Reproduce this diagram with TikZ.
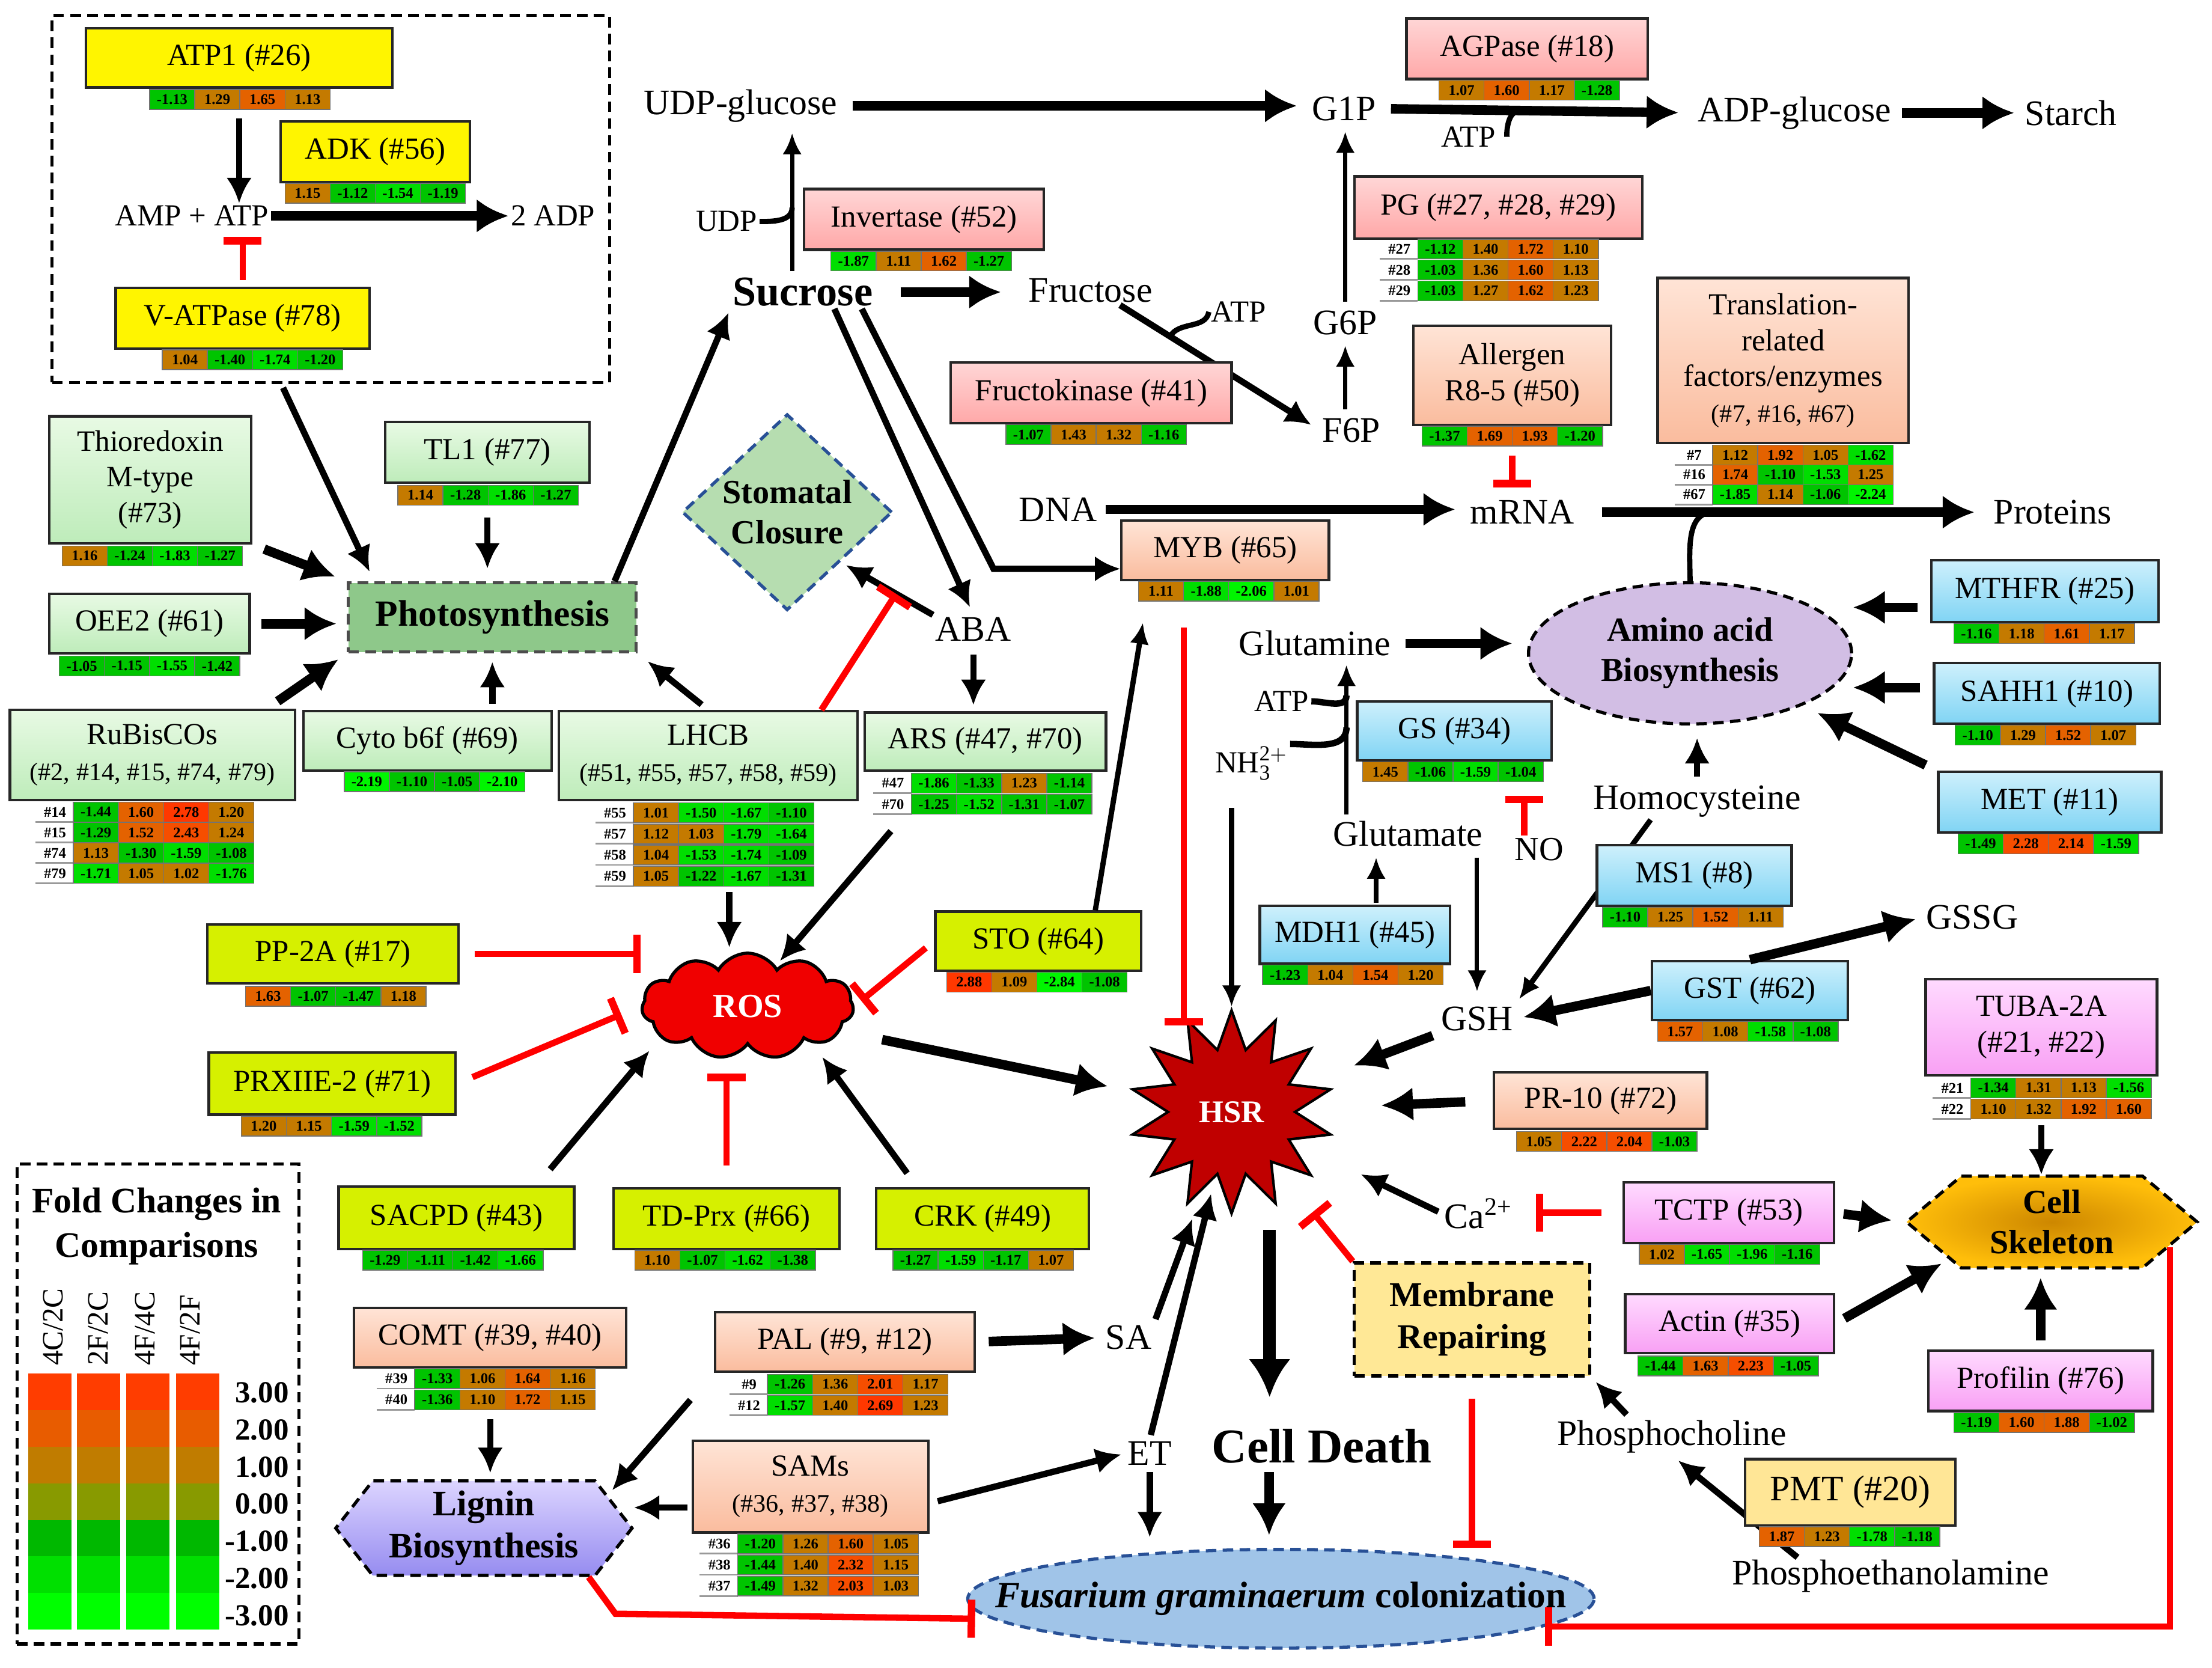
\documentclass[tikz,border=0pt]{standalone}
\usepackage{fontspec}
\setmainfont{Liberation Serif}
\setmathrm{Liberation Serif}
\usetikzlibrary{arrows.meta,shapes.geometric,shapes.symbols}

\definecolor{hp1}{RGB}{196,122,0}
\definecolor{hp2}{RGB}{228,98,0}
\definecolor{hp3}{RGB}{246,78,0}
\definecolor{hp4}{RGB}{255,56,0}
\definecolor{hn1}{RGB}{0,196,0}
\definecolor{hn2}{RGB}{0,222,0}
\definecolor{hn3}{RGB}{0,245,0}
\definecolor{lg3}{RGB}{255,61,0}
\definecolor{lg2}{RGB}{232,92,0}
\definecolor{lg1}{RGB}{192,124,0}
\definecolor{lg0}{RGB}{136,154,0}
\definecolor{lgm1}{RGB}{0,184,0}
\definecolor{lgm2}{RGB}{0,224,0}
\definecolor{lgm3}{RGB}{0,255,0}
\definecolor{enyel}{RGB}{255,245,0}
\definecolor{grtop}{RGB}{232,250,228}
\definecolor{grbot}{RGB}{190,236,186}
\definecolor{pktop}{RGB}{255,214,214}
\definecolor{pkbot}{RGB}{255,168,168}
\definecolor{sltop}{RGB}{255,228,214}
\definecolor{slbot}{RGB}{250,188,158}
\definecolor{bltop}{RGB}{206,240,252}
\definecolor{blbot}{RGB}{128,212,244}
\definecolor{rosly}{RGB}{214,240,0}
\definecolor{mgtop}{RGB}{255,218,255}
\definecolor{mgbot}{RGB}{248,160,244}
\definecolor{pmtyel}{RGB}{255,230,150}
\definecolor{photog}{RGB}{142,200,138}
\definecolor{stomg}{RGB}{182,221,176}
\definecolor{aminop}{RGB}{210,190,228}
\definecolor{fusb}{RGB}{160,196,232}
\definecolor{membr}{RGB}{255,232,150}
\definecolor{cellin}{RGB}{205,135,0}
\definecolor{cellout}{RGB}{255,190,10}
\definecolor{ligtop}{RGB}{220,212,255}
\definecolor{ligbot}{RGB}{150,140,240}
\definecolor{rosred}{RGB}{240,0,0}
\definecolor{hsrred}{RGB}{192,0,0}
\definecolor{dashblue}{RGB}{40,80,150}

\tikzstyle{pbox}=[draw=black!85,line width=1.2pt,inner sep=0pt,align=center,font=\fontsize{14.5}{17}\selectfont]
\tikzstyle{ybox}=[pbox,fill=enyel]
\tikzstyle{gbox}=[pbox,top color=grtop,bottom color=grbot]
\tikzstyle{kbox}=[pbox,top color=pktop,bottom color=pkbot]
\tikzstyle{sbox}=[pbox,top color=sltop,bottom color=slbot]
\tikzstyle{bbox}=[pbox,top color=bltop,bottom color=blbot]
\tikzstyle{lbox}=[pbox,fill=rosly]
\tikzstyle{mbox}=[pbox,top color=mgtop,bottom color=mgbot]
\tikzstyle{heatnum}=[font=\fontsize{7}{7}\selectfont\bfseries,inner sep=0pt]
\tikzstyle{mtxt}=[font=\fontsize{17}{19}\selectfont,inner sep=1pt]
\tikzstyle{stxt}=[font=\fontsize{14.5}{16}\selectfont,inner sep=1pt]
\tikzstyle{myarrow}=[line width=3pt,>={Latex[length=12pt,width=12pt]},->]
\tikzstyle{mybig}=[line width=4.5pt,>={Latex[length=15pt,width=16pt]},->]
\tikzstyle{mythin}=[line width=2pt,>={Latex[length=10pt,width=9pt]},->]
\tikzstyle{myinhib}=[red,line width=3pt,-{Bar[width=18pt,line width=3.5pt]}]
\tikzstyle{mydash}=[dashed,dash pattern=on 5pt off 3pt,line width=1.5pt]

\newcommand{\ux}{0.023476cm}
% box from its corners: style, name, x1, y1, x2, y2, text
\newcommand{\pbx}[7]{%
  \node[#1,minimum width=(#5-#3)*\ux,minimum height=(#6-#4)*\ux] (#2) at ({(#3+#5)/2},{(#4+#6)/2}) {#7};}
\newcount\hcnt
% one heat cell: left, top, value
\newcommand{\hcell}[3]{%
  \global\advance\hcnt by 1
  \edef\hcname{hc\the\hcnt}%
  \pgfmathtruncatemacro{\hci}{(#3>=2.5)?6:((#3>=2)?5:((#3>=1.5)?4:((#3>0)?3:((#3>-1.5)?2:((#3>-2)?1:0)))))}%
  \ifcase\hci\def\hcc{hn3}\or\def\hcc{hn2}\or\def\hcc{hn1}\or\def\hcc{hp1}\or\def\hcc{hp2}\or\def\hcc{hp3}\or\def\hcc{hp4}\fi
  \filldraw[fill=\hcc,draw=black!55,line width=0.4pt] (#1,#2) rectangle +(32,14);
  \node[heatnum] (\hcname) at ({#1+16},{#2+7}) {#3};%
}
\newcommand{\hmap}[3]{\foreach \v [count=\i from 0] in {#3} {\hcell{#1+32*\i}{#2}{\v}}}
\newcommand{\hrow}[4]{%
  \global\advance\hcnt by 1
  \edef\hcname{hl\the\hcnt}%
  \node[heatnum] (\hcname) at ({#1-13},{#2+7}) {#3};
  \draw[black!40,line width=0.8pt] ({#1-27},{#2+14}) -- (#1,{#2+14});
  \hmap{#1}{#2}{#4}}

\pgfdeclarelayer{under}
\pgfsetlayers{under,main}

\begin{document}
\begin{tikzpicture}[x=0.023476cm,y=-0.023476cm]
\useasboundingbox (0,0) rectangle (1568,1182);

% energy
\pbx{draw,mydash,inner sep=0pt}{enbox}{37}{11}{432}{271}{}
\pbx{ybox}{atp1}{61}{20}{278}{62}{ATP1 (\#26)}
\hmap{106}{63.5}{-1.13,1.29,1.65,1.13}
\pbx{ybox}{adk}{199}{86}{333}{129}{ADK (\#56)}
\hmap{202}{130}{1.15,-1.12,-1.54,-1.19}
\node[stxt] (amp) at (136,153) {AMP + ATP};
\node[stxt] (adp) at (392,153) {2 ADP};
\pbx{ybox}{vatp}{82}{204}{262}{247}{V-ATPase (\#78)}
\hmap{115}{248}{1.04,-1.40,-1.74,-1.20}

% photosynthesis
\pbx{gbox,font=\fontsize{14}{17}\selectfont}{thio}{35}{295}{178}{385}{Thioredoxin\\M-type\\(\#73)}
\hmap{44}{387}{1.16,-1.24,-1.83,-1.27}
\pbx{gbox}{tl1}{273}{299}{418}{342}{TL1 (\#77)}
\hmap{282}{344}{1.14,-1.28,-1.86,-1.27}
\pbx{gbox}{oee2}{35}{421}{177}{463}{OEE2 (\#61)}
\hmap{42}{465}{-1.05,-1.15,-1.55,-1.42}
\pbx{draw=black!70,mydash,fill=photog,inner sep=0pt,font=\fontsize{17.5}{19}\selectfont\bfseries}{photo}{247}{413}{451}{462}{Photosynthesis}
\pbx{gbox}{rubisco}{7}{503}{209}{567}{RuBisCOs\\{\fontsize{12}{14}\selectfont(\#2, \#14, \#15, \#74, \#79)}}
\hrow{52}{568.5}{\#14}{-1.44,1.60,2.78,1.20}
\hrow{52}{583}{\#15}{-1.29,1.52,2.43,1.24}
\hrow{52}{597.5}{\#74}{1.13,-1.30,-1.59,-1.08}
\hrow{52}{612}{\#79}{-1.71,1.05,1.02,-1.76}
\pbx{gbox}{cyto}{215}{504}{391}{546}{Cyto b6f (\#69)}
\hmap{244}{547}{-2.19,-1.10,-1.05,-2.10}
\pbx{gbox}{lhcb}{396}{504}{608}{567}{LHCB\\{\fontsize{12}{14}\selectfont(\#51, \#55, \#57, \#58, \#59)}}
\hrow{449}{569}{\#55}{1.01,-1.50,-1.67,-1.10}
\hrow{449}{584}{\#57}{1.12,1.03,-1.79,-1.64}
\hrow{449}{599}{\#58}{1.04,-1.53,-1.74,-1.09}
\hrow{449}{614}{\#59}{1.05,-1.22,-1.67,-1.31}
\pbx{gbox}{ars}{613}{505}{784}{546}{ARS (\#47, \#70)}
\hrow{646}{548}{\#47}{-1.86,-1.33,1.23,-1.14}
\hrow{646}{563}{\#70}{-1.25,-1.52,-1.31,-1.07}
\node[diamond,draw=dashblue,mydash,fill=stomg,minimum width=149*\ux,minimum height=139*\ux,inner sep=0pt,align=center,font=\fontsize{16}{19}\selectfont\bfseries] (stomatal) at (558,363) {Stomatal\\Closure};
\node[mtxt] (aba) at (690,446) {ABA};

% sugars
\node[mtxt,font=\fontsize{20}{22}\selectfont\bfseries] (sucrose) at (569,207) {Sucrose};
\node[mtxt] (udpg) at (525,75) {UDP-glucose};
\node[mtxt] (g1p) at (952.6,77) {G1P};
\node[mtxt] (adpg) at (1272,80) {ADP-glucose};
\node[mtxt] (starch) at (1468,80) {Starch};
\node[stxt] (atpa) at (1041,97) {ATP};
\node[stxt] (udp) at (515,157) {UDP};
\node[mtxt] (fructose) at (773,206) {Fructose};
\node[stxt] (atpb) at (878,221) {ATP};
\node[mtxt] (g6p) at (953.6,228.6) {G6P};
\node[mtxt] (f6p) at (958,305) {F6P};
\node[mtxt] (dna) at (750,361) {DNA};
\node[mtxt] (mrna) at (1079,363) {mRNA};
\node[mtxt] (proteins) at (1455,363) {Proteins};
\pbx{kbox}{invert}{570}{134}{740}{177}{Invertase (\#52)}
\hmap{589}{178}{-1.87,1.11,1.62,-1.27}
\pbx{kbox}{agpase}{997}{13}{1168}{56}{AGPase (\#18)}
\hmap{1020}{57}{1.07,1.60,1.17,-1.28}
\pbx{kbox}{pg}{960}{125}{1164}{169}{PG (\#27, \#28, \#29)}
\hrow{1005}{169.5}{\#27}{-1.12,1.40,1.72,1.10}
\hrow{1005}{184.3}{\#28}{-1.03,1.36,1.60,1.13}
\hrow{1005}{199.1}{\#29}{-1.03,1.27,1.62,1.23}
\pbx{kbox}{fruk}{674}{257}{873}{300}{Fructokinase (\#41)}
\hmap{713}{301}{-1.07,1.43,1.32,-1.16}
\pbx{sbox}{allergen}{1002}{231}{1142}{301}{Allergen\\R8-5 (\#50)}
\hmap{1008}{302}{-1.37,1.69,1.93,-1.20}
\pbx{sbox}{transl}{1175}{197}{1353}{314}{Translation-\\related\\factors/enzymes\\{\fontsize{12}{14}\selectfont(\#7, \#16, \#67)}}
\hrow{1214}{315.5}{\#7}{1.12,1.92,1.05,-1.62}
\hrow{1214}{329.5}{\#16}{1.74,-1.10,-1.53,1.25}
\hrow{1214}{343.5}{\#67}{-1.85,1.14,-1.06,-2.24}
\pbx{sbox}{myb}{795}{369}{942}{411}{MYB (\#65)}
\hmap{807}{412}{1.11,-1.88,-2.06,1.01}

% amino acids
\node[mtxt] (glutamine) at (932,456) {Glutamine};
\node[ellipse,draw,mydash,fill=aminop,minimum width=229*\ux,minimum height=100*\ux,inner sep=0pt,align=center,font=\fontsize{16}{19}\selectfont\bfseries] (amino) at (1198,463) {Amino acid\\Biosynthesis};
\pbx{bbox}{mthfr}{1369}{397}{1530}{441}{MTHFR (\#25)}
\hmap{1385}{442}{-1.16,1.18,1.61,1.17}
\pbx{bbox}{sahh}{1371}{470}{1531}{513}{SAHH1 (\#10)}
\hmap{1386}{514}{-1.10,1.29,1.52,1.07}
\pbx{bbox}{met}{1374}{547}{1532}{590}{MET (\#11)}
\hmap{1388}{591}{-1.49,2.28,2.14,-1.59}
\node[stxt] (atpc) at (908.5,497) {ATP};
\node[stxt] (nh3) at (887,541) {NH$_{\mathrm{3}}^{\mathrm{2+}}$};
\pbx{bbox}{gs}{962}{497}{1100}{539}{GS (\#34)}
\hmap{966}{540}{1.45,-1.06,-1.59,-1.04}
\node[mtxt] (homocys) at (1203,568) {Homocysteine};
\node[mtxt] (glutamate) at (998,591) {Glutamate};
\node[stxt,font=\fontsize{16}{18}\selectfont] (nox) at (1091,602) {NO};
\pbx{bbox}{ms1}{1132}{599}{1270}{642}{MS1 (\#8)}
\hmap{1136}{643}{-1.10,1.25,1.52,1.11}
\node[mtxt] (gssg) at (1398,650) {GSSG};
\pbx{bbox}{mdh1}{893}{642}{1028}{683}{MDH1 (\#45)}
\hmap{895}{684}{-1.23,1.04,1.54,1.20}
\node[mtxt] (gsh) at (1047,722) {GSH};
\pbx{bbox}{gst}{1171}{681}{1310}{723}{GST (\#62)}
\hmap{1175}{724}{1.57,1.08,-1.58,-1.08}
\pbx{mbox}{tuba}{1365}{694}{1529}{762}{TUBA-2A\\(\#21, \#22)}
\hrow{1397}{764}{\#21}{-1.34,1.31,1.13,-1.56}
\hrow{1397}{779}{\#22}{1.10,1.32,1.92,1.60}
\pbx{sbox}{pr10}{1059}{760}{1210}{800}{PR-10 (\#72)}
\hmap{1075}{802}{1.05,2.22,2.04,-1.03}

% cell skeleton and membrane
\node[mtxt] (ca) at (1048,860) {Ca\textsuperscript{2+}};
\pbx{mbox}{tctp}{1151}{838}{1300}{881}{TCTP (\#53)}
\hmap{1162}{882}{1.02,-1.65,-1.96,-1.16}
\node[signal,signal to=east and west,signal pointer angle=80,draw,mydash,inner color=cellin,outer color=cellout,minimum width=206*\ux,minimum height=65*\ux,inner sep=0pt,align=center,font=\fontsize{16}{19}\selectfont\bfseries] (cell) at (1454.5,866) {Cell\\Skeleton};
\pbx{mbox}{actin}{1152}{917}{1300}{959}{Actin (\#35)}
\hmap{1161}{961}{-1.44,1.63,2.23,-1.05}
\pbx{mbox}{profilin}{1367}{957}{1526}{1000}{Profilin (\#76)}
\hmap{1385}{1001}{-1.19,1.60,1.88,-1.02}
\pbx{draw,mydash,fill=membr,inner sep=0pt,align=center,font=\fontsize{16.5}{20}\selectfont\bfseries}{membrane}{960}{895}{1127}{975}{Membrane\\Repairing}
\node[mtxt] (pcho) at (1185,1018) {Phosphocholine};
\pbx{pbox,fill=pmtyel,font=\fontsize{17}{19}\selectfont}{pmt}{1237}{1034}{1386}{1081}{PMT (\#20)}
\hmap{1247}{1082}{1.87,1.23,-1.78,-1.18}
\node[mtxt] (peth) at (1340,1117) {Phosphoethanolamine};

% ROS and HSR
\node[cloud,cloud puffs=11,cloud puff arc=120,aspect=2,draw,line width=1.5pt,fill=rosred,minimum width=150*\ux,minimum height=75*\ux,inner sep=0pt,text=white,font=\fontsize{16}{18}\selectfont\bfseries] (ros) at (530,713) {ROS};
\node[star,star points=14,star point ratio=1.6,draw,line width=1.2pt,fill=hsrred,minimum size=144*\ux,inner sep=0pt,text=white,font=\fontsize{15}{17}\selectfont\bfseries] (hsr) at (873,788) {HSR};
\pbx{lbox}{pp2a}{147}{655}{325}{697}{PP-2A (\#17)}
\hmap{174}{699}{1.63,-1.07,-1.47,1.18}
\pbx{lbox}{prx}{148}{746}{323}{790}{PRXIIE-2 (\#71)}
\hmap{171}{791}{1.20,1.15,-1.59,-1.52}
\pbx{lbox}{sto}{663}{646}{809}{688}{STO (\#64)}
\hmap{671}{689}{2.88,1.09,-2.84,-1.08}
\pbx{lbox}{sacpd}{240}{841}{407}{885}{SACPD (\#43)}
\hmap{257}{886}{-1.29,-1.11,-1.42,-1.66}
\pbx{lbox}{tdprx}{435}{842}{595}{885}{TD-Prx (\#66)}
\hmap{450}{886}{1.10,-1.07,-1.62,-1.38}
\pbx{lbox}{crk}{621}{842}{772}{885}{CRK (\#49)}
\hmap{633}{886}{-1.27,-1.59,-1.17,1.07}

% lignin, SA, ET
\pbx{sbox}{comt}{251}{927}{444}{969}{COMT (\#39, \#40)}
\hrow{294}{970}{\#39}{-1.33,1.06,1.64,1.16}
\hrow{294}{985}{\#40}{-1.36,1.10,1.72,1.15}
\pbx{sbox}{pal}{507}{930}{691}{972}{PAL (\#9, \#12)}
\hrow{544}{974}{\#9}{-1.26,1.36,2.01,1.17}
\hrow{544}{989}{\#12}{-1.57,1.40,2.69,1.23}
\pbx{sbox}{sams}{491}{1021}{658}{1086}{SAMs\\{\fontsize{12}{14}\selectfont(\#36, \#37, \#38)}}
\hrow{523}{1087}{\#36}{-1.20,1.26,1.60,1.05}
\hrow{523}{1102}{\#38}{-1.44,1.40,2.32,1.15}
\hrow{523}{1117}{\#37}{-1.49,1.32,2.03,1.03}
\node[signal,signal to=east and west,signal pointer angle=104,draw,mydash,top color=ligtop,bottom color=ligbot,minimum width=210*\ux,minimum height=67*\ux,inner sep=0pt,align=center,font=\fontsize{17}{20}\selectfont\bfseries] (lignin) at (343,1083) {Lignin\\Biosynthesis};
\node[mtxt] (sa) at (800,948) {SA};
\node[mtxt] (et) at (815,1030) {ET};
\node[mtxt,font=\fontsize{23}{25}\selectfont\bfseries] (celldeath) at (937,1025) {Cell Death};
\node[ellipse,draw=dashblue,mydash,fill=fusb,minimum width=444*\ux,minimum height=70*\ux,inner xsep=-32pt,inner ysep=0pt,font=\fontsize{17.5}{19}\selectfont\bfseries] (fusarium) at (908,1133) {\textit{Fusarium graminaerum} colonization};

% legend
\pbx{draw,mydash,inner sep=0pt}{legbox}{12}{825}{212}{1165}{}
\node[align=center,font=\fontsize{17}{21}\selectfont\bfseries] (legtitle) at (111,869) {Fold Changes in\\Comparisons};
\foreach \col [count=\k from 0] in {lg3,lg2,lg1,lg0,lgm1,lgm2,lgm3}
  \foreach \xl in {20,54.7,89.5,125}
    \fill[\col] (\xl,{973.5+25.9*\k}) rectangle +(30.5,25.9);
\foreach \t [count=\k from 0] in {3.00,2.00,1.00,0.00,-1.00,-2.00,-3.00}
  \node[anchor=east,inner sep=0pt,font=\fontsize{14.5}{16}\selectfont\bfseries] (lv\k) at (205,{987+26.3*\k}) {\t};
\node[rotate=90,anchor=west,inner sep=0pt,font=\fontsize{14}{16}\selectfont] (lca) at (37.6,968) {4C/2C};
\node[rotate=90,anchor=west,inner sep=0pt,font=\fontsize{14}{16}\selectfont] (lcb) at (69.6,968) {2F/2C};
\node[rotate=90,anchor=west,inner sep=0pt,font=\fontsize{14}{16}\selectfont] (lcc) at (103,968) {4F/4C};
\node[rotate=90,anchor=west,inner sep=0pt,font=\fontsize{14}{16}\selectfont] (lcd) at (135,968) {4F/2F};

% lines running under boxes
\begin{pgfonlayer}{under}
\path ([xshift=14pt]fructose.south) -- (f6p.west) coordinate[pos=0.25] (frj);
\draw[myarrow,shorten >=5pt] ([xshift=14pt]fructose.south) -- (f6p.west);
\draw[mythin,line width=2.5pt,shorten >=3pt] ([xshift=-22pt]homocys.south) -- (gsh.north east);
\draw[myarrow,shorten >=4pt] ([xshift=-44pt]peth.north) -- (pcho.south);
\end{pgfonlayer}

% energy links
\draw[myarrow,shorten <=14pt] (atp1.south) -- (atp1.south |- amp.north);
\draw[mybig] (amp.east) -- (adp.west);
\draw[myinhib,shorten <=3pt,shorten >=4pt] (vatp.north) -- (vatp.north |- amp.south);
\draw[myarrow,shorten <=2pt,shorten >=5pt] (enbox.255) -- (photo.163);

% photosynthesis links
\draw[mybig,shorten <=6pt,shorten >=6pt] (thio.south east) -- (photo.north west);
\draw[mybig,shorten <=5pt,shorten >=5pt] (oee2.east) -- (oee2.east -| photo.west);
\draw[mybig,shorten <=6pt,shorten >=5pt] (rubisco.22) -- (photo.south west);
\draw[myarrow,shorten <=16pt,shorten >=6pt] (tl1.south) -- (tl1.south |- photo.north);
\draw[myarrow,shorten <=3pt,shorten >=4pt] (photo.south |- cyto.north) -- (photo.south);
\draw[myarrow,shorten <=4pt,shorten >=6pt] (lhcb.north) -- (photo.south east);
\draw[myarrow,shorten >=2pt] ([xshift=-11pt]photo.north east) -- (sucrose.south west);

% sugar links
\draw[mythin,shorten <=2pt,shorten >=4pt] ([xshift=-5pt]sucrose.north) -- ([xshift=-5pt]sucrose.north |- udpg.south);
\path ([xshift=-5pt]sucrose.north) -- ([xshift=-5pt]sucrose.north |- udpg.south) coordinate[pos=0.45] (udpj);
\draw[line width=2.5pt] (udp.east) to[out=0,in=-90] (udpj);
\draw[mybig,shorten <=6pt,shorten >=6pt] (udpg.east) -- (udpg.east -| g1p.west);
\path (g1p.east) -- (adpg.west) coordinate[pos=0.45] (adpj);
\draw[mybig,shorten <=6pt,shorten >=8pt] (g1p.east) -- (adpg.west);
\draw[line width=2.5pt] ([xshift=4pt]atpa.east) to[out=90,in=180] (adpj);
\draw[mybig,shorten <=4pt,shorten >=4pt] (adpg.east) -- (starch.west);
\draw[mybig,shorten <=12pt,shorten >=12pt] (sucrose.east) -- (sucrose.east -| fructose.west);
\draw[line width=2.5pt] (atpb.west) to[out=-100,in=60] (frj);
\draw[mythin,shorten <=3pt,shorten >=4pt] (g6p.south |- f6p.north) -- (g6p.south);
\draw[mythin,shorten <=3pt,shorten >=4pt] (g6p.north) -- (g6p.north |- g1p.south);
\draw[myinhib,shorten <=14pt,shorten >=5pt] (allergen.south) -- (allergen.south |- mrna.north);
\draw[mybig,shorten <=3pt,shorten >=6pt] (dna.east) -- (dna.east -| mrna.west);
\path (mrna.east) -- (mrna.east -| proteins.west) coordinate[pos=0.33] (protj);
\draw[mybig,shorten <=12pt,shorten >=8pt] (mrna.east) -- (mrna.east -| proteins.west);
\draw[line width=2.5pt] (amino.north) to[out=90,in=180] (protj);
\draw[myarrow,shorten >=4pt] ([xshift=15pt]sucrose.south) -- (aba.north);
\draw[myarrow] ([xshift=28pt]sucrose.south) -- ([xshift=-60pt]myb.190) -- (myb.190);

% ABA links
\path (aba.north west) -- (stomatal.south east) coordinate[pos=0.4] (abastj);
\draw[myarrow,shorten >=3pt] (aba.north west) -- (stomatal.south east);
\draw[myinhib] (lhcb.22) -- (abastj);
\draw[myarrow,shorten <=5pt,shorten >=3pt] (aba.south) -- (aba.south |- ars.north);

% amino acid links
\draw[mybig,shorten <=6pt,shorten >=7pt] (glutamine.east) -- (glutamine.east -| amino.west);
\draw[mybig,shorten <=6pt] (mthfr.188) -- (mthfr.188 -| amino.east);
\draw[mybig,shorten <=6pt] (sahh.177) -- (sahh.177 -| amino.east);
\draw[mybig,shorten <=6pt,shorten >=8pt] (met.north west) -- (amino.-25);
\draw[myarrow,shorten <=3pt,shorten >=6pt] (homocys.north) -- (homocys.north |- amino.south);
\coordinate (glin) at ([xshift=15pt]glutamine.south);
\path (glin |- glutamate.north) -- (glin) coordinate[pos=0.57] (gljn) coordinate[pos=0.77] (glja);
\draw[mythin,shorten <=2pt,shorten >=3pt] (glin |- glutamate.north) -- (glin);
\draw[line width=3pt] (atpc.east) to[out=0,in=-90] (glja);
\draw[line width=3pt] (nh3.north east) to[out=0,in=-90] (gljn);
\coordinate (noout) at ([xshift=-7pt]nox.north);
\draw[myinhib,shorten >=16pt] (noout) -- (noout |- gs.south);
\coordinate (mdhout) at ([xshift=10pt]mdh1.north);
\draw[mythin,shorten <=1pt,shorten >=4pt] (mdhout) -- (mdhout |- glutamate.south);
\draw[mythin,shorten <=4pt,shorten >=6pt] (gsh.north |- glutamate.south) -- (gsh.north);
\draw[mybig,shorten >=4pt] (gst.west) -- (gsh.east);
\draw[mybig,shorten >=4pt] (gst.north) -- (gssg.west);

% into HSR
\draw[mybig,shorten <=3pt,shorten >=62pt] (gsh.south west) -- (hsr.center);
\draw[mybig,shorten <=13pt,shorten >=71pt] (pr10.west) -- (hsr.center);
\draw[myarrow,shorten <=2pt,shorten >=68pt] (ca.west) -- (hsr.center);
\draw[myinhib,shorten <=10pt,shorten >=10pt] (tctp.west) -- (tctp.west -| ca.east);
\draw[mythin,line width=2.5pt,shorten <=12pt] (hsr.north |- nh3.south) -- (hsr.north);
\coordinate (mybout) at ([xshift=-19.6pt]myb.south);
\draw[myinhib,shorten <=22pt,shorten >=-9pt] (mybout) -- (mybout |- hsr.north);
\draw[mythin,line width=2.5pt,shorten >=20pt] ([xshift=27pt]sto.north) -- ([xshift=14pt]myb.south west);
\draw[myinhib,shorten >=61pt] (membrane.north west) -- (hsr.center);
\draw[myinhib,shorten <=10pt] (membrane.south) -- (membrane.south |- fusarium.north);
\coordinate (hsrout) at ([xshift=18pt]hsr.south);
\draw[line width=6pt,>={Latex[length=18pt,width=20pt]},->,shorten <=6pt,shorten >=14pt] (hsrout) -- (hsrout |- celldeath.north);
\coordinate (cdout) at ([xshift=-25pt]celldeath.south);
\draw[mybig,shorten <=3pt,shorten >=6pt] (cdout) -- (cdout |- fusarium.north);

% cell skeleton links
\draw[mybig,shorten <=4pt,shorten >=6pt] (tctp.east) -- (cell.west);
\draw[mybig,shorten <=5pt,shorten >=4pt] (actin.east) -- (cell.200);
\draw[mybig,shorten <=4pt,shorten >=4pt] (profilin.north) -- (profilin.north |- cell.south);
\draw[myarrow,shorten <=23pt] (tuba.south) -- (tuba.south |- cell.north);
\draw[myinhib] (cell.-12) |- (fusarium.-6);
\draw[myarrow,shorten <=2pt,shorten >=3pt] ([xshift=-20pt]pcho.north) -- (membrane.south east);

% ROS links
\coordinate (lhcbout) at ([xshift=10pt]lhcb.south);
\draw[myarrow,shorten <=43pt,shorten >=2pt] (lhcbout) -- (lhcbout |- ros.north);
\draw[myarrow,shorten <=37pt,shorten >=3pt] ([xshift=37pt]ars.south west) -- (ros.55);
\draw[myinhib,shorten <=7pt] (pp2a.east) -- (pp2a.east -| ros.west);
\draw[myinhib,shorten <=8pt,shorten >=10pt] (prx.east) -- (ros.west);
\draw[myinhib,shorten <=5pt,shorten >=4pt] (sto.west) -- (ros.east);
\draw[myarrow,shorten <=10pt,shorten >=8pt] ([xshift=38pt]sacpd.north) -- (ros.200);
\draw[myinhib,shorten <=10pt,shorten >=13pt] (tdprx.north) -- (tdprx.north |- ros.south);
\draw[myarrow,shorten <=8pt,shorten >=8pt] ([xshift=-31pt]crk.north) -- (ros.-30);
\draw[mybig,shorten <=20pt,shorten >=60pt] (ros.-15) -- (hsr.center);

% lignin, SA, ET links
\draw[myarrow,shorten <=17pt,shorten >=3pt] (pal.south west) -- (lignin.15);
\draw[myarrow,shorten <=2pt] (sams.190) -- (sams.190 -| lignin.east);
\draw[myarrow,shorten <=4pt,shorten >=2pt] (sams.-8) -- (et.west);
\draw[myarrow,shorten <=24pt,shorten >=3pt] (comt.south) -- (comt.south |- lignin.north);
\draw[mybig,shorten <=6pt,shorten >=4pt] (pal.east) -- (sa.west);
\draw[myarrow,shorten <=2pt,shorten >=54pt] (sa.north east) -- (hsr.center);
\draw[myarrow,shorten <=2pt,shorten >=40pt] (et.north) -- (hsr.center);
\draw[myarrow,shorten <=2pt,shorten >=5pt] (et.south) -- (et.south |- fusarium.north);
\draw[myinhib,shorten >=8pt] (lignin.-25) -- ++(19,26) -- (fusarium.184);
\end{tikzpicture}
\end{document}
